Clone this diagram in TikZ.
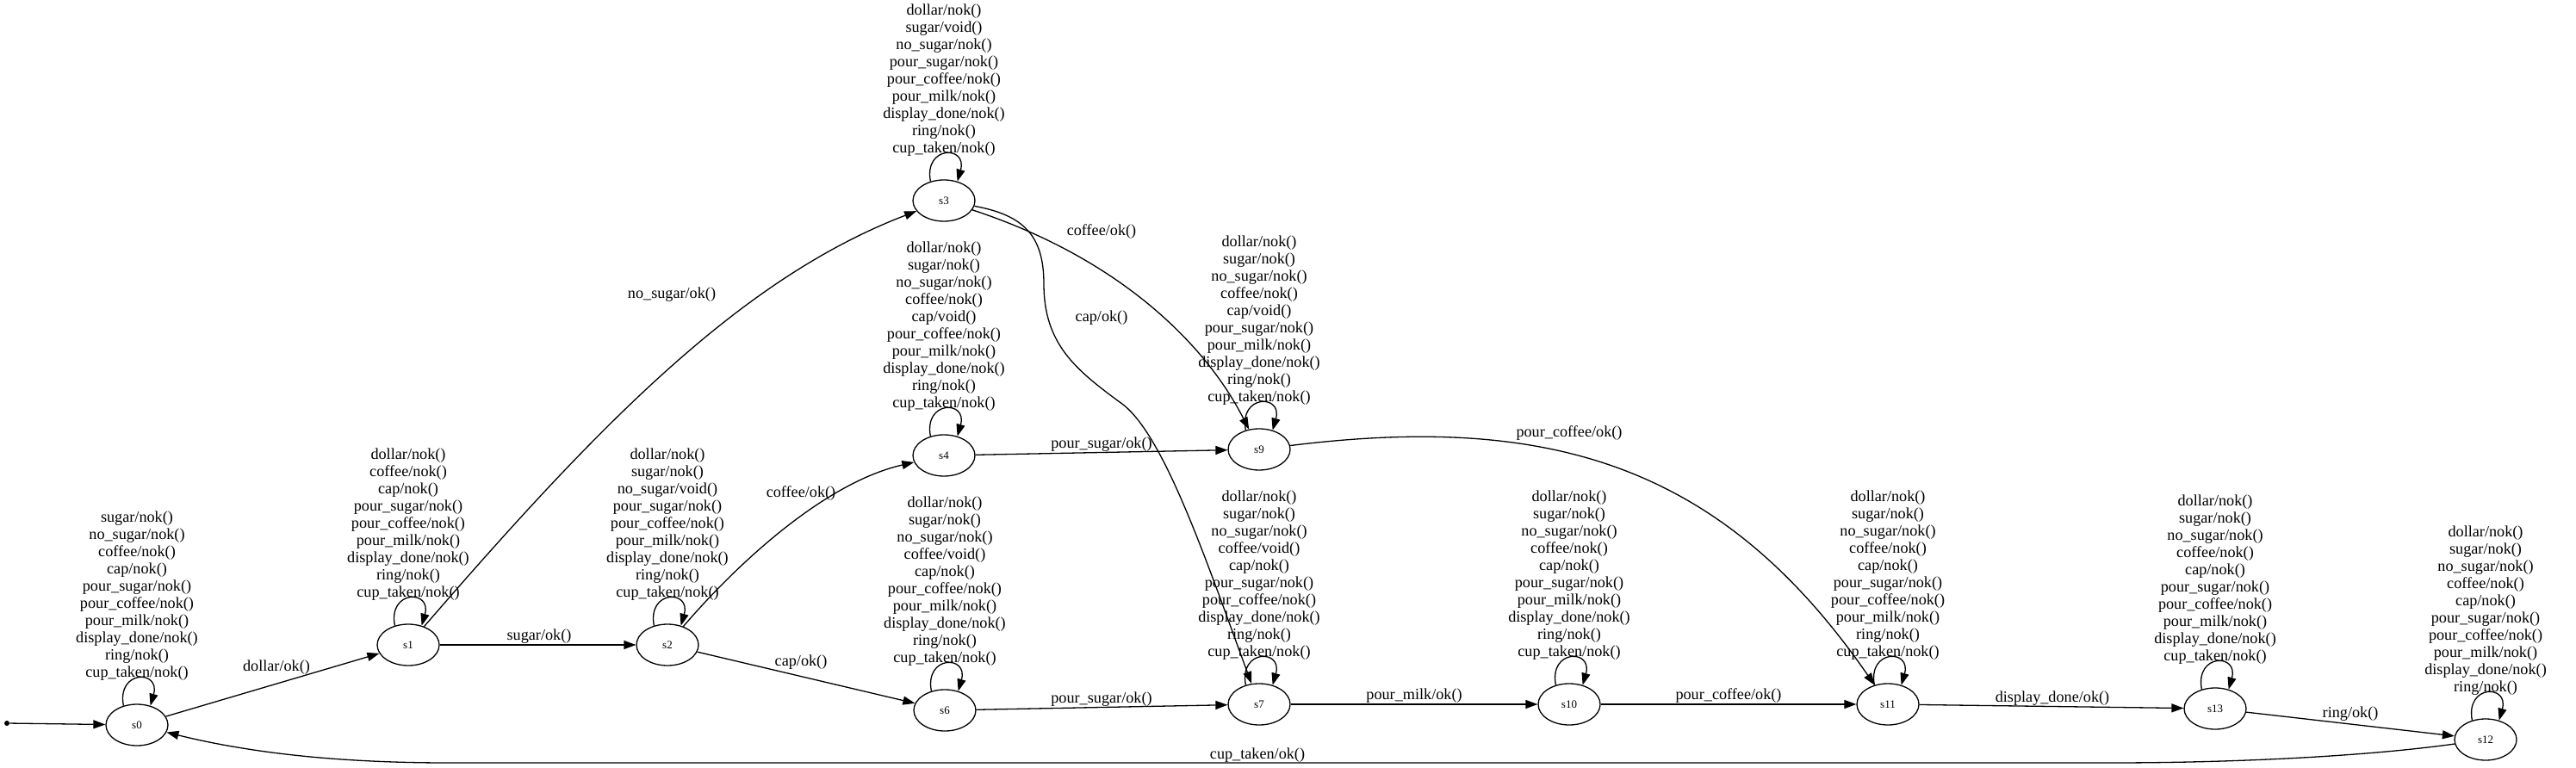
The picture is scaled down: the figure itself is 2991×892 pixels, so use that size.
\documentclass[tikz,border=0pt]{standalone}
\usepackage{fontspec}
\setmainfont{Liberation Serif}
\usetikzlibrary{shapes.geometric,arrows.meta}
\tikzset{
  state/.style={ellipse, draw, line width=0.65pt, minimum width=36pt, minimum height=24pt, inner sep=0pt, font=\fontsize{6.5}{7}\selectfont},
  initdot/.style={circle, fill=black, inner sep=0pt, minimum size=3pt},
  lbl/.style={font=\fontsize{9.1}{10}\selectfont, inner sep=0pt, align=center},
  loopl/.style={lbl, anchor=south},
  edge/.style={line width=0.65pt, -{Triangle[length=7pt,width=5pt]}},
}
\begin{document}
\begin{tikzpicture}[x=0.5pt,y=-0.5pt]
\useasboundingbox (0,0) rectangle (2991,892);
% states
\node[initdot] (init) at (8,840) {};
\node[state] (s0) at (159,842) {s0};
\node[state] (s1) at (474,749) {s1};
\node[state] (s2) at (775,749) {s2};
\node[state] (s3) at (1096,233) {s3};
\node[state] (s4) at (1096,529) {s4};
\node[state] (s6) at (1097,825) {s6};
\node[state] (s9) at (1462,522) {s9};
\node[state] (s7) at (1462,818) {s7};
\node[state] (s10) at (1822,818) {s10};
\node[state] (s11) at (2192,818) {s11};
\node[state] (s13) at (2572,823) {s13};
\node[state] (s12) at (2886,859) {s12};
% self loops
\foreach \s in {s0,s1,s2,s3,s4,s6,s7,s9,s10,s11,s13,s12}{
  \draw[edge] (\s.125) .. controls +(-8,-42) and +(12,-42) .. (\s.55);
}
% loop labels
\node[loopl] (t0) at ([yshift=13.5pt]s0.north) {sugar/nok()\\no\_sugar/nok()\\coffee/nok()\\cap/nok()\\pour\_sugar/nok()\\pour\_coffee/nok()\\pour\_milk/nok()\\display\_done/nok()\\ring/nok()\\cup\_taken/nok()};
\node[loopl] (t1) at ([yshift=13.5pt]s1.north) {dollar/nok()\\coffee/nok()\\cap/nok()\\pour\_sugar/nok()\\pour\_coffee/nok()\\pour\_milk/nok()\\display\_done/nok()\\ring/nok()\\cup\_taken/nok()};
\node[loopl] (t2) at ([yshift=13.5pt]s2.north) {dollar/nok()\\sugar/nok()\\no\_sugar/void()\\pour\_sugar/nok()\\pour\_coffee/nok()\\pour\_milk/nok()\\display\_done/nok()\\ring/nok()\\cup\_taken/nok()};
\node[loopl] (t3) at ([yshift=13.5pt]s3.north) {dollar/nok()\\sugar/void()\\no\_sugar/nok()\\pour\_sugar/nok()\\pour\_coffee/nok()\\pour\_milk/nok()\\display\_done/nok()\\ring/nok()\\cup\_taken/nok()};
\node[loopl] (t4) at ([yshift=13.5pt]s4.north) {dollar/nok()\\sugar/nok()\\no\_sugar/nok()\\coffee/nok()\\cap/void()\\pour\_coffee/nok()\\pour\_milk/nok()\\display\_done/nok()\\ring/nok()\\cup\_taken/nok()};
\node[loopl] (t6) at ([yshift=13.5pt]s6.north) {dollar/nok()\\sugar/nok()\\no\_sugar/nok()\\coffee/void()\\cap/nok()\\pour\_coffee/nok()\\pour\_milk/nok()\\display\_done/nok()\\ring/nok()\\cup\_taken/nok()};
\node[loopl] (t7) at ([yshift=13.5pt]s7.north) {dollar/nok()\\sugar/nok()\\no\_sugar/nok()\\coffee/void()\\cap/nok()\\pour\_sugar/nok()\\pour\_coffee/nok()\\display\_done/nok()\\ring/nok()\\cup\_taken/nok()};
\node[loopl] (t9) at ([yshift=13.5pt]s9.north) {dollar/nok()\\sugar/nok()\\no\_sugar/nok()\\coffee/nok()\\cap/void()\\pour\_sugar/nok()\\pour\_milk/nok()\\display\_done/nok()\\ring/nok()\\cup\_taken/nok()};
\node[loopl] (t10) at ([yshift=13.5pt]s10.north) {dollar/nok()\\sugar/nok()\\no\_sugar/nok()\\coffee/nok()\\cap/nok()\\pour\_sugar/nok()\\pour\_milk/nok()\\display\_done/nok()\\ring/nok()\\cup\_taken/nok()};
\node[loopl] (t11) at ([yshift=13.5pt]s11.north) {dollar/nok()\\sugar/nok()\\no\_sugar/nok()\\coffee/nok()\\cap/nok()\\pour\_sugar/nok()\\pour\_coffee/nok()\\pour\_milk/nok()\\ring/nok()\\cup\_taken/nok()};
\node[loopl] (t13) at ([yshift=13.5pt]s13.north) {dollar/nok()\\sugar/nok()\\no\_sugar/nok()\\coffee/nok()\\cap/nok()\\pour\_sugar/nok()\\pour\_coffee/nok()\\pour\_milk/nok()\\display\_done/nok()\\cup\_taken/nok()};
\node[loopl] (t12) at ([yshift=13.5pt]s12.north) {dollar/nok()\\sugar/nok()\\no\_sugar/nok()\\coffee/nok()\\cap/nok()\\pour\_sugar/nok()\\pour\_coffee/nok()\\pour\_milk/nok()\\display\_done/nok()\\ring/nok()};
% transitions
\draw[edge] (init) -- (s0);
\draw[edge] (s0) -- (s1);
\draw[edge] (s1) -- (s2);
\draw[edge] (s1) .. controls (697,491) and (861,323) .. (s3);
\draw[edge] (s2) .. controls (860,650) and (960,560) .. (s4);
\draw[edge] (s2) -- (s6);
\draw[edge] (s3) .. controls (1300,300) and (1400,400) .. (s9);
\draw[edge] (s3) .. controls (1190,250) and (1212,275) .. (1212,330)
   .. controls (1212,400) and (1250,430) .. (1300,467)
   .. controls (1350,500) and (1400,650) .. (s7);
\draw[edge] (s4) -- (s9);
\draw[edge] (s6) -- (s7);
\draw[edge] (s9) .. controls (1800,480) and (2000,540) .. (s11);
\draw[edge] (s7) -- (s10);
\draw[edge] (s10) -- (s11);
\draw[edge] (s11) -- (s13);
\draw[edge] (s13) -- (s12);
\draw[edge] (s12) .. controls (2750,878) and (2600,886) .. (2450,886) -- (520,886)
   .. controls (380,886) and (280,872) .. (s0);
% transition labels
\node[lbl] (e01) at (321,775) {dollar/ok()};
\node[lbl] (e12) at (626,739) {sugar/ok()};
\node[lbl] (e13) at (780,342) {no\_sugar/ok()};
\node[lbl] (e24) at (930,573) {coffee/ok()};
\node[lbl] (e26) at (930,769) {cap/ok()};
\node[lbl] (e39) at (1279,269) {coffee/ok()};
\node[lbl] (e37) at (1279,369) {cap/ok()};
\node[lbl] (e49) at (1279,516) {pour\_sugar/ok()};
\node[lbl] (e67) at (1279,812) {pour\_sugar/ok()};
\node[lbl] (e911) at (1822,503) {pour\_coffee/ok()};
\node[lbl] (e710) at (1642,808) {pour\_milk/ok()};
\node[lbl] (e1011) at (2007,808) {pour\_coffee/ok()};
\node[lbl] (e1113) at (2383,811) {display\_done/ok()};
\node[lbl] (e1312) at (2729,829) {ring/ok()};
\node[lbl] (e120) at (1460,877) {cup\_taken/ok()};
\end{tikzpicture}
\end{document}
